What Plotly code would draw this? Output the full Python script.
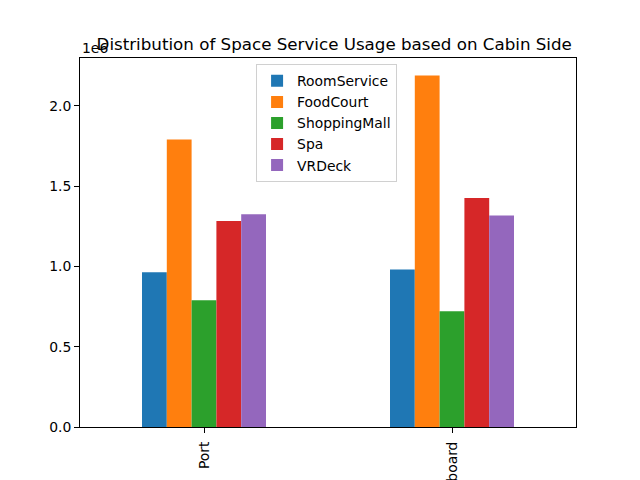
import plotly.graph_objects as go

categories = ["Port", "Starboard"]
series_names = ["RoomService", "FoodCourt", "ShoppingMall", "Spa", "VRDeck"]
room_service = [964000, 981000]
food_court = [1791000, 2189000]
shopping_mall = [790000, 721000]
spa = [1283000, 1426000]
vr_deck = [1325000, 1318000]
y_tick_vals = [0, 500000, 1000000, 1500000, 2000000]
y_tick_text = ["0.0", "0.5", "1.0", "1.5", "2.0"]

colors = ["#1f77b4", "#ff7f0e", "#2ca02c", "#d62728", "#9467bd"]
series_values = [room_service, food_court, shopping_mall, spa, vr_deck]

FONT = "DejaVu Sans"
fig = go.Figure()
for name, vals, c in zip(series_names, series_values, colors):
    fig.add_trace(go.Bar(x=categories, y=vals, name=name, marker=dict(color=c, line=dict(width=0))))

ymax = max(max(v) for v in series_values) * 1.05

fig.update_layout(
    width=640, height=480,
    paper_bgcolor="white", plot_bgcolor="white",
    margin=dict(l=80, r=64, t=57.6, b=52.8, autoexpand=False),
    barmode="group", bargap=0.5, bargroupgap=0,
    font=dict(family=FONT, size=13.9, color="black"),
    title=dict(text="Distribution of Space Service Usage based on Cabin Side",
               x=(80 + 248) / 640, xanchor="center", xref="paper",
               y=1, yref="paper", yanchor="bottom", pad=dict(b=8),
               font=dict(family=FONT, size=16.7, color="black")),
    legend=dict(x=0.355, y=0.983, xanchor="left", yanchor="top",
                bgcolor="rgba(255,255,255,0.8)", bordercolor="#d0d0d0", borderwidth=1,
                font=dict(family=FONT, size=13.9), tracegroupgap=0,
                itemwidth=30),
    showlegend=True,
)
fig.update_xaxes(range=[-0.5, 1.5], showline=True, mirror=True, linecolor="black", linewidth=1,
                 ticks="outside", ticklen=5, tickcolor="black", tickangle=-90,
                 ticklabelstandoff=3,
                 showgrid=False, automargin=False, zeroline=False)
fig.update_yaxes(range=[0, ymax], showline=True, mirror=True, linecolor="black", linewidth=1,
                 ticks="outside", ticklen=5, tickcolor="black",
                 tickvals=y_tick_vals, ticktext=y_tick_text,
                 showgrid=False, zeroline=False, automargin=False)
fig.add_annotation(text="1e6", xref="paper", yref="paper", x=0, y=1, xanchor="left", yanchor="bottom",
                   showarrow=False, font=dict(family=FONT, size=13.9, color="black"), yshift=0)
fig.write_html("out.html", config={"displayModeBar": False},
               post_script="document.body.style.margin='0';")
